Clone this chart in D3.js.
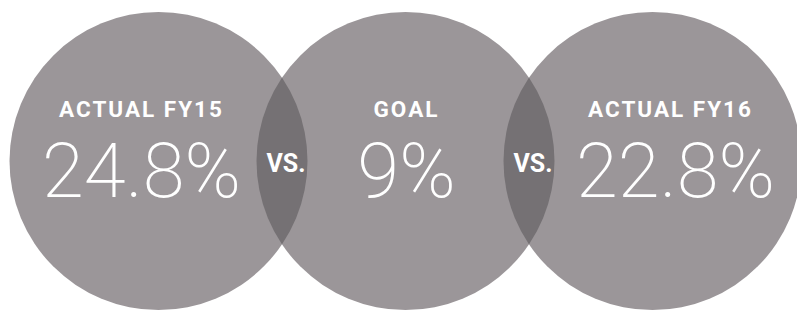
<!DOCTYPE html>
<html>
<head>
<meta charset="utf-8">
<script src="https://cdn.jsdelivr.net/npm/d3@7"></script>
<style>
  body { margin: 0; background: #fff; }
  svg { display: block; }
  .label { font-family: Roboto, "DejaVu Sans", sans-serif; font-weight: 700; font-size: 22.5px; fill: #fff; text-anchor: middle; letter-spacing: 2px; }
  .value { font-family: Roboto, "DejaVu Sans", sans-serif; font-weight: 200; font-size: 76px; fill: #fff; text-anchor: middle; }
  .vs { font-family: Roboto, "DejaVu Sans", sans-serif; font-weight: 700; font-size: 25px; fill: #fff; text-anchor: middle; }
</style>
</head>
<body>
<div id="chart"></div>
<script>
// chart data
const labels = ["ACTUAL FY15", "GOAL", "ACTUAL FY16"];
const values = [24.8, 9, 22.8];
const separators = ["VS.", "VS."];

const svgWidth = 797;
const svgHeight = 311;

// layout
const radius = 149;
const cy = 161;
const textShift = [-18, 0, 17];

const svg = d3.select("#chart")
  .append("svg")
  .attr("width", svgWidth)
  .attr("height", svgHeight);

// circle centres along x
const xScale = d3.scalePoint()
  .domain(labels)
  .range([158.5, 652.5]);

const defs = svg.append("defs");

labels.forEach((d, i) => {
  defs.append("clipPath")
    .attr("id", `clip${i}`)
    .append("circle")
    .attr("cx", xScale(d))
    .attr("cy", cy)
    .attr("r", radius);
});

// main circles
svg.selectAll("circle.bubble")
  .data(labels)
  .enter()
  .append("circle")
  .attr("class", "bubble")
  .attr("cx", d => xScale(d))
  .attr("cy", cy)
  .attr("r", radius)
  .attr("fill", "#9b9699");

// darker overlaps
svg.selectAll("circle.lens")
  .data(separators)
  .enter()
  .append("circle")
  .attr("class", "lens")
  .attr("clip-path", (d, i) => `url(#clip${i})`)
  .attr("cx", (d, i) => xScale(labels[i + 1]))
  .attr("cy", cy)
  .attr("r", radius)
  .attr("fill", "#757174");

// labels
svg.selectAll("text.label")
  .data(labels)
  .enter()
  .append("text")
  .attr("class", "label")
  .attr("x", (d, i) => xScale(d) + textShift[i] + 1)
  .attr("y", 117)
  .text(d => d);

svg.selectAll("text.value")
  .data(values)
  .enter()
  .append("text")
  .attr("class", "value")
  .attr("x", (d, i) => xScale(labels[i]) + textShift[i] + (i === 2 ? 6 : 1))
  .attr("y", 197)
  .text(d => d3.format(".1~f")(d) + "%");

svg.selectAll("text.vs")
  .data(separators)
  .enter()
  .append("text")
  .attr("class", "vs")
  .attr("x", (d, i) => (xScale(labels[i]) + xScale(labels[i + 1])) / 2 + 4)
  .attr("y", 172)
  .text(d => d);
</script>
</body>
</html>
